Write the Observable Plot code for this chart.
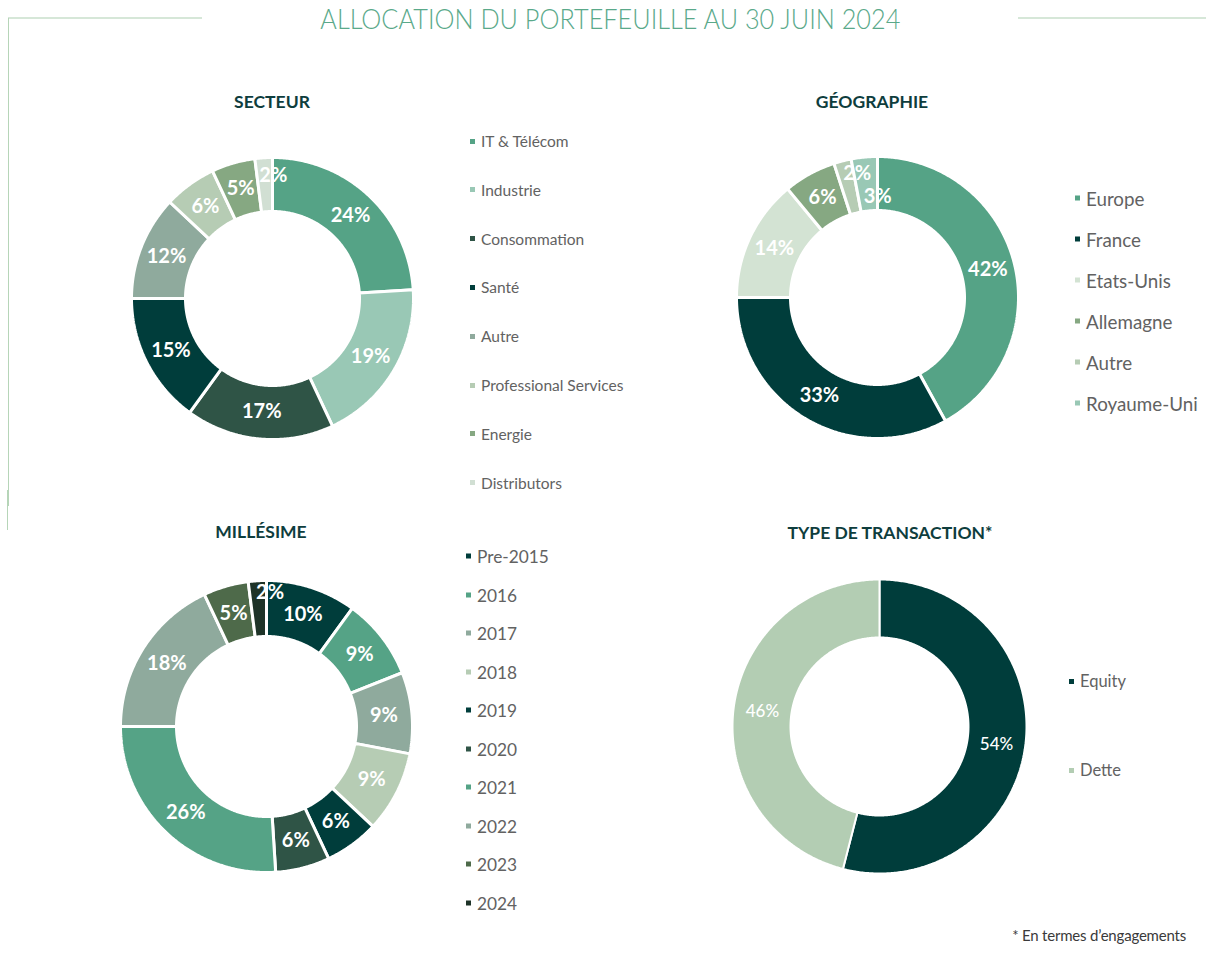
<!DOCTYPE html>
<html>
<head>
<meta charset="utf-8">
<script src="https://cdn.jsdelivr.net/npm/d3@7"></script>
<script src="https://cdn.jsdelivr.net/npm/@observablehq/plot@0.6"></script>
<style>
  html, body { margin: 0; padding: 0; background: #fff; }
  #page { position: relative; width: 1206px; height: 958px; overflow: hidden; font-family: Lato, "Open Sans", sans-serif; }
  .title { position: absolute; top: 2px; left: 14px; width: 1192px; text-align: center; white-space: nowrap;
           font-family: Lato, sans-serif; font-weight: 300; font-size: 28px; color: #5aa98a; line-height: 32px; }
  .title span { display: inline-block; transform-origin: center; }
  .ptitle { position: absolute; width: 400px; text-align: center; font-family: Lato, sans-serif; font-weight: 700;
            font-size: 17.5px; color: #0e3d3d; line-height: 20px; white-space: nowrap; }
  .legend { position: absolute; font-family: Lato, sans-serif; color: #626262; white-space: nowrap; }
  .legend .it { position: absolute; left: 0; display: flex; align-items: center; transform: translateY(-50%); }
  .legend .sw { width: 5px; height: 5px; margin-right: 6px; flex: none; }
  .foot { position: absolute; right: 20px; top: 926px; font-family: Lato, sans-serif; font-size: 15px; color: #3a3a3a; letter-spacing: -0.2px; }
  .hline { position: absolute; height: 2px; background: #d6e7d8; }
  .vline { position: absolute; width: 1px; background: #b6d5b8; }
</style>
</head>
<body>
<div id="page"></div>
<script>
// ---------- DATA ----------
const secteurLabels = ["IT & Télécom", "Industrie", "Consommation", "Santé", "Autre", "Professional Services", "Energie", "Distributors"];
const secteurValues = [24, 19, 17, 15, 12, 6, 5, 2];
const secteurColors = ["#55a386", "#99c8b5", "#2f5446", "#003d3b", "#8faa9d", "#b6ccb4", "#86a882", "#d1dfd3"];

const geoLabels = ["Europe", "France", "Etats-Unis", "Allemagne", "Autre", "Royaume-Uni"];
const geoValues = [42, 33, 14, 6, 2, 3];
const geoColors = ["#55a386", "#003d3b", "#d3e3d3", "#86a882", "#b6ccb4", "#99c8b5"];

const millesimeLabels = ["Pre-2015", "2016", "2017", "2018", "2019", "2020", "2021", "2022", "2023", "2024"];
const millesimeValues = [10, 9, 9, 9, 6, 6, 26, 18, 5, 2];
const millesimeColors = ["#003d3b", "#55a386", "#8faa9d", "#b6ccb4", "#003d3b", "#2f5446", "#55a386", "#8faa9d", "#4e6a4a", "#1e3328"];

const typeLabels = ["Equity", "Dette"];
const typeValues = [54, 46];
const typeColors = ["#003d3b", "#b3cdb3"];

// ---------- HELPERS ----------
const page = document.getElementById("page");

function donut({labels, values, colors, size, outer, inner, gap, labelSize, labelWeight, shifts = {}}) {
  const total = d3.sum(values);
  const rows = [];
  const labelRows = [];
  let acc = 0;
  labels.forEach((lab, i) => {
    const a0 = acc / total * 2 * Math.PI;
    acc += values[i];
    const a1 = acc / total * 2 * Math.PI;
    const n = Math.max(8, Math.ceil((a1 - a0) / 0.01));
    const pts = [];
    for (let k = 0; k <= n; k++) { const a = a0 + (a1 - a0) * k / n; pts.push([outer * Math.sin(a), outer * Math.cos(a)]); }
    for (let k = n; k >= 0; k--) { const a = a0 + (a1 - a0) * k / n; pts.push([inner * Math.sin(a), inner * Math.cos(a)]); }
    pts.push(pts[0]);
    pts.forEach(([x, y]) => rows.push({key: i, cat: lab, x, y}));
    const am = (a0 + a1) / 2, rm = (outer + inner) / 2;
    const [sx, sy] = shifts[i] || [0, 0];
    labelRows.push({x: rm * Math.sin(am), y: rm * Math.cos(am), dx: sx, dy: sy, text: values[i] + "%"});
  });
  const h = size / 2;
  const normal = labelRows.filter(d => !d.dx && !d.dy);
  const shifted = labelRows.filter(d => d.dx || d.dy);
  const textOpts = {x: "x", y: "y", text: "text", fill: "white", fontSize: labelSize, fontWeight: labelWeight, fontFamily: "Lato, sans-serif"};
  return Plot.plot({
    width: size, height: size, margin: 0,
    x: {domain: [-h, h], axis: null},
    y: {domain: [-h, h], axis: null},
    color: {domain: labels.map((_, i) => i), range: colors},
    style: {background: "transparent", overflow: "visible"},
    marks: [
      Plot.line(rows, {x: "x", y: "y", z: "key", fill: "key", stroke: "white", strokeWidth: gap, strokeLinejoin: "miter", curve: "linear"}),
      Plot.text(normal, textOpts),
      ...shifted.map(d => Plot.text([d], {...textOpts, dx: d.dx, dy: d.dy}))
    ]
  });
}

function place(el, left, top) {
  el.style.position = "absolute"; el.style.left = left + "px"; el.style.top = top + "px";
  page.appendChild(el);
}

function addDonut(opts, cx, cy) {
  const svg = donut(opts);
  place(svg, cx - opts.size / 2, cy - opts.size / 2);
}

function addTitle(text, cx, cy) {
  const d = document.createElement("div");
  d.className = "ptitle"; d.textContent = text;
  d.style.left = (cx - 200) + "px"; d.style.top = (cy - 10) + "px";
  page.appendChild(d);
}

function addLegend(labels, colors, left, firstY, step, fontSize) {
  const lg = document.createElement("div");
  lg.className = "legend"; lg.style.left = left + "px"; lg.style.top = firstY + "px";
  lg.style.fontSize = fontSize + "px";
  labels.forEach((lab, i) => {
    const it = document.createElement("div");
    it.className = "it"; it.style.top = (i * step) + "px";
    const sw = document.createElement("div"); sw.className = "sw"; sw.style.background = colors[i];
    const tx = document.createElement("span"); tx.textContent = lab;
    it.appendChild(sw); it.appendChild(tx); lg.appendChild(it);
  });
  page.appendChild(lg);
}

// ---------- DECORATION ----------
function line(cls, l, t, w, h) { const d = document.createElement("div"); d.className = cls; d.style.left = l + "px"; d.style.top = t + "px"; if (w) d.style.width = w + "px"; if (h) d.style.height = h + "px"; page.appendChild(d); }
line("hline", 8, 17, 194, 0);
line("hline", 1018, 17, 188, 0);
line("vline", 8, 18, 0, 488);
line("vline", 7, 490, 0, 40);

// ---------- MAIN TITLE ----------
const t = document.createElement("div");
t.className = "title";
const ts = document.createElement("span");
ts.textContent = "ALLOCATION DU PORTEFEUILLE AU 30 JUIN 2024";
t.appendChild(ts); page.appendChild(t);
const w = ts.getBoundingClientRect().width;
ts.style.transform = `scaleX(${580 / w})`;

// ---------- PANELS ----------
addTitle("SECTEUR", 272, 102);
addDonut({labels: secteurLabels, values: secteurValues, colors: secteurColors, size: 300, outer: 141, inner: 87, gap: 3, labelSize: 20, labelWeight: 700,
          shifts: {7: [8, -9]}}, 272, 298);
addLegend(secteurLabels, secteurColors, 470, 141, 48.8, 15.5);

addTitle("GÉOGRAPHIE", 872, 102);
addDonut({labels: geoLabels, values: geoValues, colors: geoColors, size: 300, outer: 141, inner: 87, gap: 3, labelSize: 20, labelWeight: 700,
          shifts: {4: [8, -13], 5: [11, 13]}}, 877, 297);
addLegend(geoLabels, geoColors, 1075, 198, 41, 18.8);

addTitle("MILLÉSIME", 261, 532);
addDonut({labels: millesimeLabels, values: millesimeValues, colors: millesimeColors, size: 310, outer: 146, inner: 90, gap: 3, labelSize: 20, labelWeight: 700,
          shifts: {9: [11, -16]}}, 266, 726);
addLegend(millesimeLabels, millesimeColors, 466, 556, 38.5, 17.3);

addTitle("TYPE DE TRANSACTION*", 890, 533);
addDonut({labels: typeLabels, values: typeValues, colors: typeColors, size: 310, outer: 147, inner: 89, gap: 2, labelSize: 17, labelWeight: 500,
          shifts: {0: [0, 3]}}, 879, 726);
addLegend(typeLabels, typeColors, 1069, 681, 89, 16.5);

const f = document.createElement("div");
f.className = "foot"; f.textContent = "* En termes d’engagements";
page.appendChild(f);
</script>
</body>
</html>
